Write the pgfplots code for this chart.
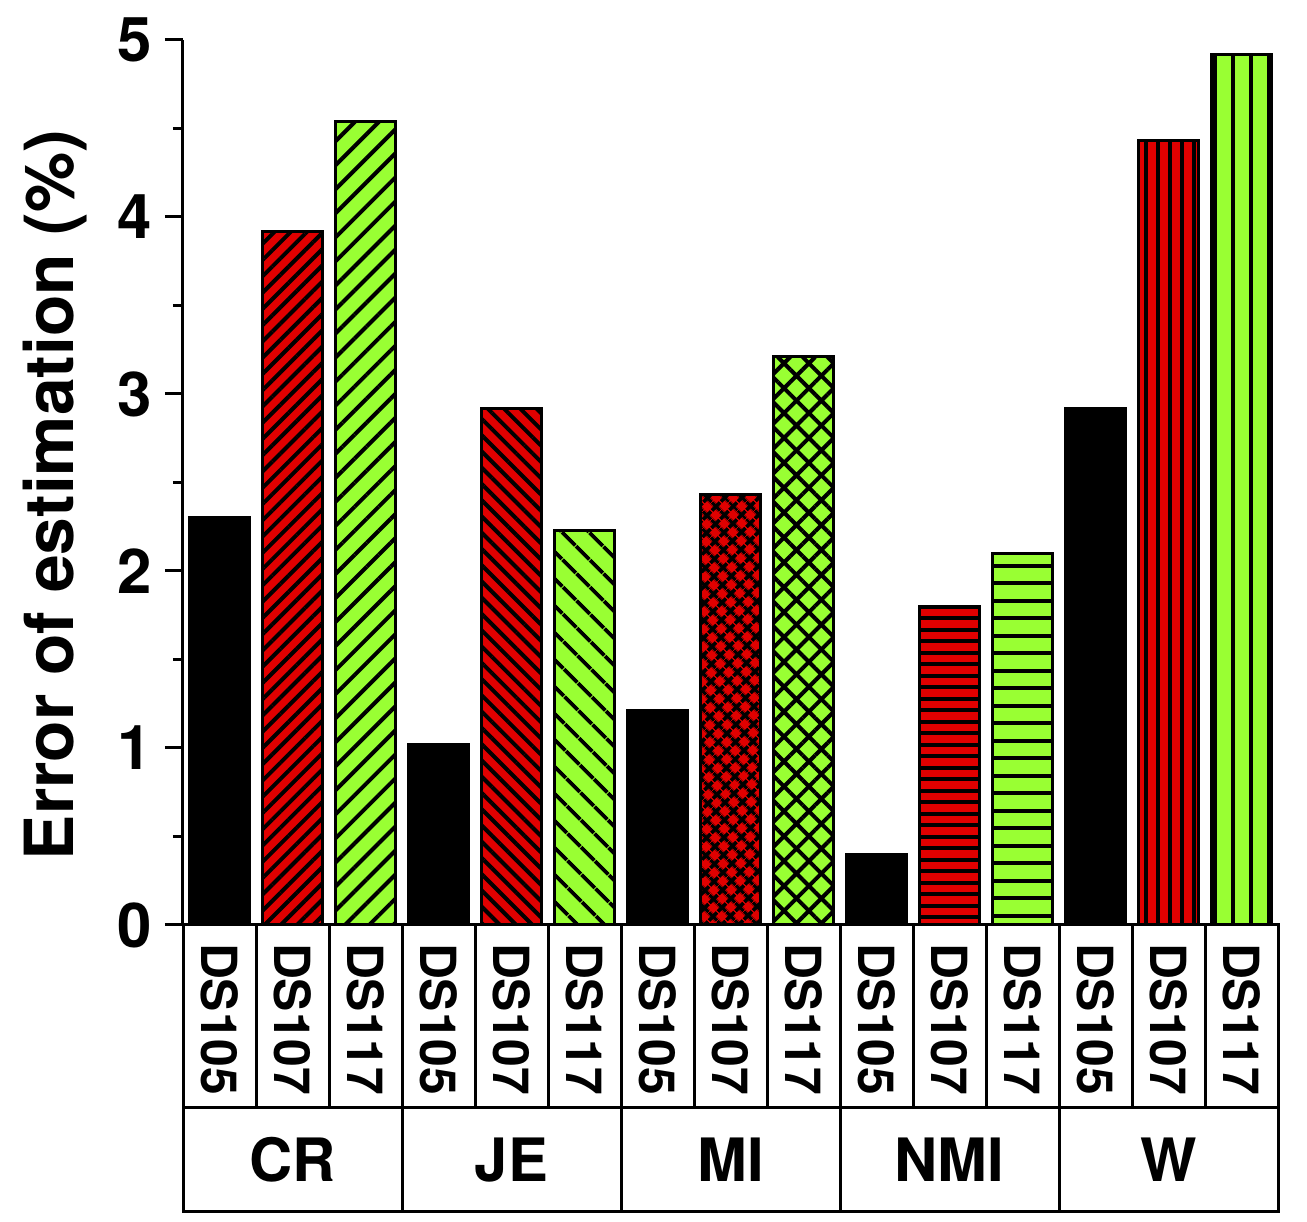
\documentclass[border=0pt]{standalone}
\usepackage{pgfplots}
\pgfplotsset{compat=1.18}
\usepackage{fontspec}
\setmainfont{TeX Gyre Heros}
\usetikzlibrary{patterns,patterns.meta}
\definecolor{myred}{HTML}{E00000}
\definecolor{mygreen}{HTML}{99FF33}
% horizontal / vertical stripe patterns (overlapping cells avoid seams)
\pgfdeclarepatternformonly{hlA}{\pgfpoint{-1bp}{0bp}}{\pgfpoint{6.75bp}{5.75bp}}{\pgfpoint{5.75bp}{5.75bp}}{%
  \pgfpathrectangle{\pgfpoint{-1bp}{1.875bp}}{\pgfpoint{7.75bp}{2bp}}\pgfusepath{fill}}
\pgfdeclarepatternformonly{hlB}{\pgfpoint{-1bp}{0bp}}{\pgfpoint{9.75bp}{8.75bp}}{\pgfpoint{8.75bp}{8.75bp}}{%
  \pgfpathrectangle{\pgfpoint{-1bp}{3.375bp}}{\pgfpoint{10.75bp}{2bp}}\pgfusepath{fill}}
\pgfdeclarepatternformonly{vlA}{\pgfpoint{0bp}{-1bp}}{\pgfpoint{6bp}{7bp}}{\pgfpoint{6bp}{6bp}}{%
  \pgfpathrectangle{\pgfpoint{2bp}{-1bp}}{\pgfpoint{2bp}{8bp}}\pgfusepath{fill}}
\pgfdeclarepatternformonly{vlB}{\pgfpoint{0bp}{-1bp}}{\pgfpoint{9bp}{10bp}}{\pgfpoint{9bp}{9bp}}{%
  \pgfpathrectangle{\pgfpoint{3.5bp}{-1bp}}{\pgfpoint{2bp}{11bp}}\pgfusepath{fill}}
\pgfplotsset{
  mybar/.style={ybar, bar width=30bp, bar shift=0pt, draw=black, line width=1.5bp},
}
\begin{document}
\begin{tikzpicture}
\begin{axis}[
  name=ax,
  scale only axis, width=547.5bp, height=442.5bp,
  xmin=-0.5, xmax=14.5, ymin=0, ymax=5,
  axis x line*=bottom, axis y line*=left,
  axis line style={line width=1.5bp, black},
  ytick={0,1,2,3,4,5}, minor y tick num=1,
  tick align=outside,
  major tick length=9bp, minor tick length=5bp,
  tick style={line width=1.5bp, black},
  xtick={0,...,14},
  xticklabels={DS105,DS107,DS117,DS105,DS107,DS117,DS105,DS107,DS117,DS105,DS107,DS117,DS105,DS107,DS117},
  xtick style={draw=none},
  xticklabel style={font=\fontsize{25}{25}\selectfont\bfseries, rotate=-90, anchor=west},
  xticklabel shift={-3.5bp},
  yticklabel style={font=\fontsize{31}{31}\selectfont\bfseries},
  yticklabel shift={3bp},
  /pgf/number format/assume math mode=true,
  ylabel={Error of estimation (\%)},
  ylabel style={font=\fontsize{34}{34}\selectfont\bfseries, at={(axis description cs:-0.117,0.486)}, anchor=center},
  clip=false,
]
\addplot[mybar, fill=black] coordinates {(0,2.30) (3,1.02) (6,1.21) (9,0.40) (12,2.92)};
% CR
\addplot[mybar, fill=myred, postaction={pattern={Lines[angle=45,distance=5.75bp,line width=2bp]}, pattern color=black}] coordinates {(1,3.92)};
\addplot[mybar, fill=mygreen, postaction={pattern={Lines[angle=45,distance=8.5bp,line width=2bp]}, pattern color=black}] coordinates {(2,4.54)};
% JE
\addplot[mybar, fill=myred, postaction={pattern={Lines[angle=-45,distance=5.75bp,line width=2bp]}, pattern color=black}] coordinates {(4,2.92)};
\addplot[mybar, fill=mygreen, postaction={pattern={Lines[angle=-45,distance=10bp,line width=2bp]}, pattern color=black}] coordinates {(5,2.23)};
% MI
\addplot[mybar, fill=myred, postaction={pattern={Hatch[angle=45,distance=6bp,line width=2bp]}, pattern color=black}] coordinates {(7,2.43)};
\addplot[mybar, fill=mygreen, postaction={pattern={Hatch[angle=45,distance=8.8bp,line width=2bp]}, pattern color=black}] coordinates {(8,3.21)};
% NMI
\addplot[mybar, fill=myred, postaction={pattern=hlA, pattern color=black}] coordinates {(10,1.80)};
\addplot[mybar, fill=mygreen, postaction={pattern=hlB, pattern color=black}] coordinates {(11,2.10)};
% W
\addplot[mybar, fill=myred, postaction={pattern=vlA, pattern color=black}] coordinates {(13,4.43)};
\addplot[mybar, fill=mygreen, postaction={pattern=vlB, pattern color=black}] coordinates {(14,4.92)};
\end{axis}
% category table
\draw[line width=1.5bp] (ax.south west) rectangle ([yshift=-143.5bp]ax.south east);
\draw[line width=1.5bp] ([yshift=-91.5bp]ax.south west) -- ([yshift=-91.5bp]ax.south east);
\foreach \i in {1,...,14} \draw[line width=1.5bp] ([xshift=\i*36.5bp]ax.south west) -- ++(0,-91.5bp);
\foreach \i in {1,...,4} \draw[line width=1.5bp] ([xshift=\i*109.5bp, yshift=-91.5bp]ax.south west) -- ++(0,-52bp);
\foreach \n [count=\i] in {CR,JE,MI,NMI,W}
  \node[font=\fontsize{30}{30}\selectfont\bfseries] at ([xshift=(\i-0.5)*109.5bp, yshift=-117.5bp]ax.south west) {\n};
% page extent
\path ([xshift=-91.5bp, yshift=-148.5bp]ax.south west) rectangle ([xshift=14.5bp, yshift=20bp]ax.north east);
\end{tikzpicture}
\end{document}
